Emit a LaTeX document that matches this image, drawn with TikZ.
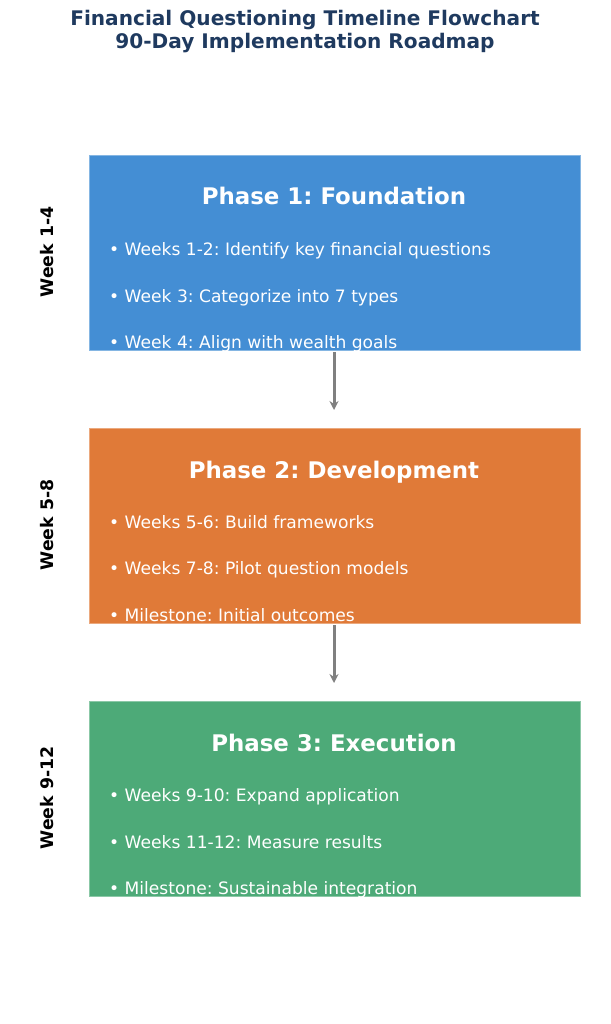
\documentclass[tikz,border=0pt]{standalone}
\usepackage{fontspec}
\setmainfont{DejaVu Sans}
\usetikzlibrary{arrows.meta}
\definecolor{pblue}{RGB}{68,142,212}
\definecolor{porange}{RGB}{224,122,56}
\definecolor{pgreen}{RGB}{77,170,120}
\definecolor{navy}{RGB}{31,58,95}
\definecolor{agray}{RGB}{128,128,128}
\begin{document}
\frenchspacing
\begin{tikzpicture}[x=1pt,y=1pt,
  phasebox/.style={draw=#1!65!white, line width=0.8pt, fill=#1, minimum width=491pt, minimum height=195pt, inner sep=0pt, anchor=north west},
  phasetitle/.style={text=white, font=\fontsize{22.9}{27}\selectfont\bfseries, anchor=base},
  bullet/.style={text=white, font=\fontsize{17.1}{20}\selectfont, anchor=base west, inner sep=0pt},
  weeklabel/.style={font=\fontsize{17.3}{20}\selectfont\bfseries, rotate=90, anchor=center},
  titletext/.style={text=navy, font=\fontsize{20.1}{24}\selectfont\bfseries, anchor=base},
  flowarrow/.style={draw=agray, line width=3pt, -{Stealth[length=9pt,width=9pt]}}
]
\useasboundingbox (0,0) rectangle (610,-1024);
\node[titletext] (t1) at (305,-26) {Financial Questioning Timeline Flowchart};
\node[titletext] (t2) at (305,-49) {90-Day Implementation Roadmap};

% Phase 1
\node[phasebox=pblue] (b1) at (89,-155) {};
\node[phasetitle] (h1) at (334,-205) {Phase 1: Foundation};
\node[bullet] (b1a) at (109,-255) {• Weeks 1-2: Identify key financial questions};
\node[bullet] (b1b) at (109,-302) {• Week 3: Categorize into 7 types};
\node[bullet] (b1c) at (109,-348) {• Week 4: Align with wealth goals};
\node[weeklabel] (w1) at (47,-252) {Week 1-4};

% Phase 2
\node[phasebox=porange] (b2) at (89,-428) {};
\node[phasetitle] (h2) at (334,-478) {Phase 2: Development};
\node[bullet] (b2a) at (109,-528) {• Weeks 5-6: Build frameworks};
\node[bullet] (b2b) at (109,-574) {• Weeks 7-8: Pilot question models};
\node[bullet] (b2c) at (109,-621) {• Milestone: Initial outcomes};
\node[weeklabel] (w2) at (47,-525) {Week 5-8};

% Phase 3
\node[phasebox=pgreen] (b3) at (89,-701) {};
\node[phasetitle] (h3) at (334,-751) {Phase 3: Execution};
\node[bullet] (b3a) at (109,-801) {• Weeks 9-10: Expand application};
\node[bullet] (b3b) at (109,-848) {• Weeks 11-12: Measure results};
\node[bullet] (b3c) at (109,-894) {• Milestone: Sustainable integration};
\node[weeklabel] (w3) at (47,-798) {Week 9-12};

\coordinate (a1s) at (334,-352);
\coordinate (a1e) at (334,-410);
\coordinate (a2s) at (334,-625);
\coordinate (a2e) at (334,-683);
\draw[flowarrow] (a1s) -- (a1e);
\draw[flowarrow] (a2s) -- (a2e);
\end{tikzpicture}
\end{document}
